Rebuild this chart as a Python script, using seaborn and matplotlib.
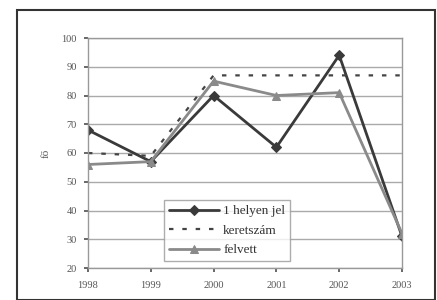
import matplotlib
matplotlib.use("Agg")
import matplotlib.pyplot as plt
import seaborn as sns
import pandas as pd
from matplotlib.patches import Rectangle

years = [1998, 1999, 2000, 2001, 2002, 2003]
helyen = [68, 57, 80, 62, 94, 31]
keret = [60, 59, 87, 87, 87, 87]
felvett = [56, 57, 85, 80, 81, 32]
labels = ["1 helyen jel", "keretszám", "felvett"]
yticks = [20, 30, 40, 50, 60, 70, 80, 90, 100]

sns.set_theme(style="white")
plt.rcParams['font.family'] = ['Liberation Serif', 'DejaVu Serif']

fig = plt.figure(figsize=(4.37, 3.0), dpi=100)
fig.patches.append(Rectangle((17/437, 0), (435-17)/437, 1-10/300, transform=fig.transFigure,
                             fill=False, edgecolor="#333333", linewidth=1.5))
ax = fig.add_axes([88/437, 1-268/300, (402-88)/437, (268-38)/300])

df = pd.DataFrame({"year": years, "h": helyen, "k": keret, "f": felvett})
sns.lineplot(data=df, x="year", y="h", ax=ax, color="#3a3a3a", linewidth=2.0,
             marker="D", markersize=5.5, markeredgecolor="#3a3a3a", label=labels[0])
sns.lineplot(data=df, x="year", y="k", ax=ax, color="#444444", linewidth=1.6,
             linestyle=(0, (2, 4)), label=labels[1])
sns.lineplot(data=df, x="year", y="f", ax=ax, color="#8a8a8a", linewidth=2.0,
             marker="^", markersize=6, markeredgecolor="#8a8a8a", label=labels[2])

ax.set_xlim(1998, 2003)
ax.set_ylim(20, 100)
ax.set_yticks(yticks)
ax.set_xticks(years)
ax.set_xticklabels([str(y) for y in years])
ax.yaxis.grid(True, color="#aaaaaa", linewidth=1.0)
ax.xaxis.grid(False)
for s in ax.spines.values():
    s.set_color("#999999")
    s.set_linewidth(1.0)
ax.tick_params(axis="both", labelsize=7.5, colors="#555555", length=3, direction="out",
               bottom=True, left=True)
ax.tick_params(axis="x", pad=6)
ax.tick_params(axis="y", pad=5)
ax.set_xlabel("")
ax.set_ylabel("fő", fontsize=8, color="#555555", labelpad=8)

leg = ax.legend(loc="lower left", bbox_to_anchor=(0.22, 0.0), frameon=True, fancybox=False,
                fontsize=9.5, handlelength=3.8, borderpad=0.4, labelspacing=0.55,
                handletextpad=0.3, edgecolor="#999999")
leg.get_frame().set_linewidth(1.0)
for t in leg.get_texts():
    t.set_color("#333333")

fig.savefig("out.png", dpi=100)
